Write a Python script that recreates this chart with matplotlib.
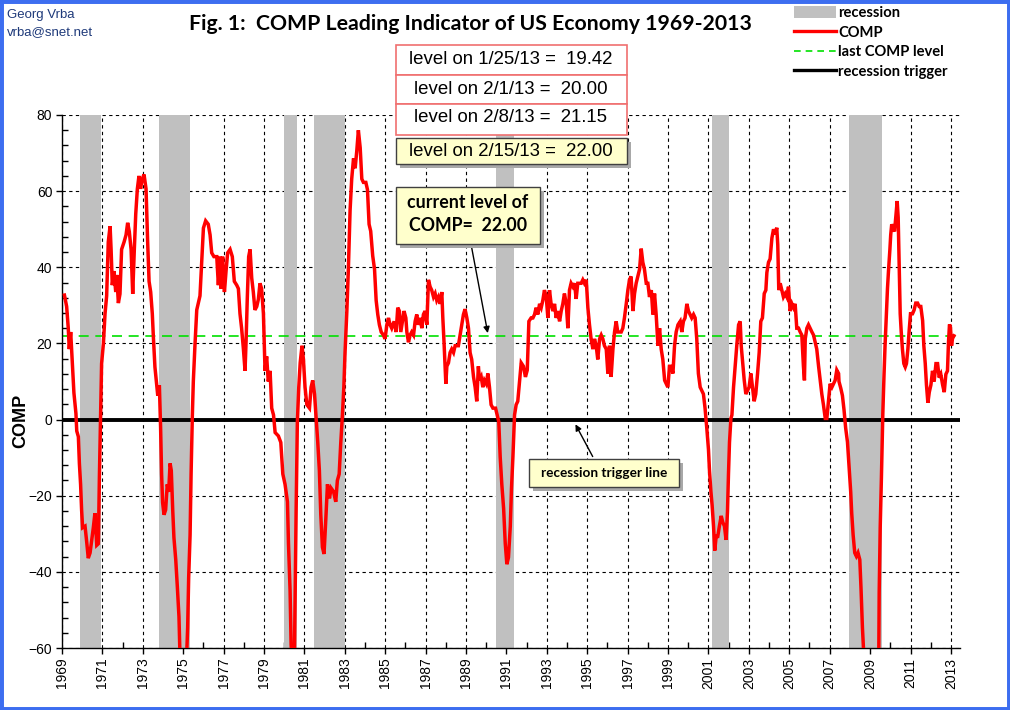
import matplotlib
matplotlib.use('Agg')
import matplotlib.pyplot as plt
from matplotlib.patches import Rectangle, Patch
from matplotlib.lines import Line2D
from matplotlib.ticker import MultipleLocator

# COMP weekly values (decimal year, level)
years = [
    1969.12, 1969.23, 1969.31, 1969.36, 1969.43, 1969.48, 1969.53, 1969.59, 1969.69, 1969.73,
    1969.81, 1969.86, 1969.92, 1969.97, 1970.02, 1970.14, 1970.22, 1970.30, 1970.39, 1970.47,
    1970.55, 1970.63, 1970.72, 1970.80, 1970.85, 1970.91, 1970.96, 1971.05, 1971.13, 1971.21,
    1971.29, 1971.38, 1971.43, 1971.49, 1971.57, 1971.66, 1971.71, 1971.79, 1971.87, 1971.95,
    1972.07, 1972.17, 1972.25, 1972.33, 1972.42, 1972.50, 1972.58, 1972.65, 1972.73, 1972.81,
    1972.89, 1972.96, 1973.06, 1973.16, 1973.24, 1973.31, 1973.39, 1973.47, 1973.52, 1973.60,
    1973.69, 1973.74, 1973.82, 1973.88, 1973.93, 1973.98, 1974.05, 1974.13, 1974.21, 1974.28,
    1974.35, 1974.41, 1974.48, 1974.54, 1974.63, 1974.71, 1974.79, 1974.84, 1974.92, 1975.04,
    1975.17, 1975.22, 1975.27, 1975.34, 1975.39, 1975.45, 1975.50, 1975.58, 1975.67, 1975.75,
    1975.83, 1975.91, 1976.00, 1976.11, 1976.24, 1976.33, 1976.41, 1976.52, 1976.66, 1976.74,
    1976.82, 1976.87, 1976.95, 1977.04, 1977.12, 1977.20, 1977.32, 1977.43, 1977.53, 1977.65,
    1977.73, 1977.81, 1977.89, 1977.98, 1978.06, 1978.11, 1978.17, 1978.24, 1978.31, 1978.39,
    1978.47, 1978.55, 1978.64, 1978.72, 1978.80, 1978.88, 1978.97, 1979.05, 1979.13, 1979.21,
    1979.30, 1979.38, 1979.47, 1979.55, 1979.71, 1979.83, 1979.93, 1980.04, 1980.16, 1980.21,
    1980.29, 1980.34, 1980.39, 1980.50, 1980.54, 1980.59, 1980.65, 1980.72, 1980.79, 1980.88,
    1980.95, 1981.03, 1981.12, 1981.25, 1981.33, 1981.41, 1981.50, 1981.58, 1981.66, 1981.74,
    1981.81, 1981.89, 1981.97, 1982.06, 1982.14, 1982.24, 1982.32, 1982.44, 1982.55, 1982.63,
    1982.72, 1982.80, 1982.88, 1982.95, 1983.01, 1983.10, 1983.18, 1983.26, 1983.34, 1983.43,
    1983.51, 1983.59, 1983.67, 1983.76, 1983.84, 1983.92, 1984.04, 1984.12, 1984.20, 1984.28,
    1984.38, 1984.47, 1984.55, 1984.63, 1984.71, 1984.80, 1984.91, 1984.99, 1985.08, 1985.16,
    1985.24, 1985.32, 1985.44, 1985.54, 1985.62, 1985.70, 1985.77, 1985.85, 1985.93, 1986.02,
    1986.07, 1986.15, 1986.23, 1986.31, 1986.40, 1986.48, 1986.56, 1986.64, 1986.73, 1986.81,
    1986.89, 1986.97, 1987.06, 1987.14, 1987.22, 1987.30, 1987.39, 1987.47, 1987.55, 1987.63,
    1987.72, 1987.80, 1987.85, 1987.91, 1988.00, 1988.05, 1988.13, 1988.21, 1988.29, 1988.38,
    1988.46, 1988.62, 1988.79, 1988.87, 1988.95, 1989.04, 1989.12, 1989.20, 1989.28, 1989.37,
    1989.45, 1989.53, 1989.61, 1989.67, 1989.75, 1989.83, 1989.91, 1990.00, 1990.08, 1990.16,
    1990.24, 1990.33, 1990.46, 1990.54, 1990.62, 1990.69, 1990.77, 1990.86, 1990.94, 1991.02,
    1991.10, 1991.19, 1991.25, 1991.32, 1991.40, 1991.48, 1991.56, 1991.65, 1991.73, 1991.84,
    1991.94, 1992.03, 1992.11, 1992.22, 1992.31, 1992.39, 1992.47, 1992.55, 1992.64, 1992.72,
    1992.80, 1992.88, 1992.97, 1993.05, 1993.13, 1993.21, 1993.30, 1993.38, 1993.46, 1993.54,
    1993.63, 1993.71, 1993.79, 1993.87, 1993.96, 1994.04, 1994.12, 1994.20, 1994.29, 1994.37,
    1994.45, 1994.53, 1994.70, 1994.78, 1994.86, 1994.95, 1995.03, 1995.11, 1995.19, 1995.28,
    1995.36, 1995.44, 1995.52, 1995.61, 1995.69, 1995.77, 1995.85, 1995.94, 1996.02, 1996.10,
    1996.18, 1996.27, 1996.35, 1996.43, 1996.51, 1996.68, 1996.76, 1996.84, 1996.93, 1997.01,
    1997.09, 1997.17, 1997.26, 1997.34, 1997.42, 1997.50, 1997.59, 1997.67, 1997.75, 1997.83,
    1997.92, 1998.00, 1998.08, 1998.17, 1998.25, 1998.33, 1998.41, 1998.50, 1998.58, 1998.66,
    1998.74, 1998.83, 1998.91, 1998.99, 1999.07, 1999.16, 1999.24, 1999.32, 1999.40, 1999.49,
    1999.60, 1999.68, 1999.76, 1999.84, 1999.93, 2000.01, 2000.09, 2000.17, 2000.26, 2000.34,
    2000.42, 2000.50, 2000.59, 2000.67, 2000.75, 2000.83, 2000.92, 2001.00, 2001.05, 2001.12,
    2001.18, 2001.25, 2001.31, 2001.38, 2001.46, 2001.54, 2001.63, 2001.71, 2001.79, 2001.87,
    2001.94, 2001.99, 2002.04, 2002.11, 2002.16, 2002.24, 2002.32, 2002.40, 2002.49, 2002.57,
    2002.62, 2002.68, 2002.77, 2002.85, 2002.93, 2003.01, 2003.10, 2003.18, 2003.26, 2003.34,
    2003.43, 2003.51, 2003.59, 2003.67, 2003.76, 2003.84, 2003.89, 2003.97, 2004.05, 2004.14,
    2004.22, 2004.30, 2004.38, 2004.43, 2004.48, 2004.55, 2004.63, 2004.71, 2004.80, 2004.88,
    2004.96, 2005.04, 2005.13, 2005.21, 2005.29, 2005.37, 2005.46, 2005.54, 2005.62, 2005.70,
    2005.75, 2005.79, 2005.87, 2005.95, 2006.03, 2006.12, 2006.20, 2006.28, 2006.36, 2006.45,
    2006.53, 2006.61, 2006.69, 2006.78, 2006.86, 2006.94, 2007.02, 2007.11, 2007.19, 2007.27,
    2007.35, 2007.44, 2007.46, 2007.55, 2007.63, 2007.71, 2007.79, 2007.88, 2007.96, 2008.04,
    2008.09, 2008.16, 2008.24, 2008.32, 2008.40, 2008.49, 2008.55, 2008.62, 2008.69, 2008.85,
    2009.05, 2009.25, 2009.43, 2009.45, 2009.50, 2009.56, 2009.63, 2009.69, 2009.74, 2009.81,
    2009.86, 2009.91, 2009.98, 2010.02, 2010.07, 2010.14, 2010.21, 2010.27, 2010.34, 2010.39,
    2010.44, 2010.49, 2010.54, 2010.60, 2010.67, 2010.74, 2010.80, 2010.87, 2010.93, 2011.00,
    2011.10, 2011.18, 2011.26, 2011.35, 2011.43, 2011.51, 2011.60, 2011.66, 2011.73, 2011.79,
    2011.86, 2011.93, 2012.01, 2012.09, 2012.17, 2012.26, 2012.34, 2012.42, 2012.50, 2012.59,
    2012.67, 2012.75, 2012.83, 2012.88, 2012.93, 2012.98, 2013.03, 2013.08, 2013.15,
]
comp = [
    32.7, 29.7, 24.0, 18.5, 23.0, 18.0, 13.0, 7.0, 1.6, -3.0,
    -4.5, -11.5, -17.0, -23.7, -28.4, -28.0, -32.0, -36.4, -35.0, -31.7,
    -28.4, -24.6, -33.0, -32.6, -15.3, 0.6, 14.7, 20.0, 27.8, 32.5,
    46.6, 50.8, 44.7, 35.3, 39.0, 33.5, 38.0, 30.6, 33.0, 44.7,
    46.6, 48.5, 51.7, 49.4, 44.7, 33.0, 44.7, 54.0, 60.6, 64.0,
    60.6, 63.0, 64.4, 60.6, 46.6, 36.3, 33.5, 27.8, 22.0, 13.8,
    9.0, 6.3, 9.0, -2.0, -14.3, -21.8, -25.0, -23.7, -17.0, -19.0,
    -11.5, -13.4, -23.7, -31.0, -36.8, -44.0, -51.8, -62.0, -66.0, -66.0,
    -62.0, -54.6, -41.5, -30.3, -14.3, 0.7, 10.0, 19.4, 28.8, 30.6,
    32.5, 41.0, 50.3, 52.2, 51.3, 48.5, 43.8, 42.8, 42.8, 35.3,
    42.8, 34.4, 42.8, 33.5, 39.0, 43.8, 44.7, 42.8, 36.3, 35.3,
    34.4, 27.8, 24.0, 18.5, 12.8, 20.3, 31.6, 42.8, 44.7, 37.2,
    33.5, 28.8, 29.7, 31.6, 35.8, 34.4, 27.8, 12.8, 16.6, 10.0,
    12.8, 3.0, 1.2, -3.4, -4.3, -6.0, -14.3, -17.0, -21.6, -32.5,
    -45.0, -59.0, -64.0, -64.0, -45.0, -23.4, -0.6, 8.5, 14.9, 19.4,
    15.8, 8.5, 3.9, 3.0, 8.5, 10.3, 6.7, 0.3, -6.0, -13.4,
    -25.0, -33.5, -35.3, -26.0, -17.0, -20.7, -18.0, -18.9, -21.6, -16.0,
    -14.3, -6.0, 1.2, 8.5, 17.6, 28.5, 40.4, 55.0, 63.2, 68.6,
    66.0, 70.5, 76.0, 71.4, 63.2, 62.3, 62.3, 60.4, 51.3, 49.5,
    43.0, 39.5, 31.3, 27.6, 24.9, 23.0, 22.2, 21.2, 24.9, 26.7,
    24.9, 24.0, 25.8, 23.0, 29.4, 28.5, 23.0, 25.8, 28.5, 26.7,
    23.0, 20.3, 22.2, 23.0, 22.2, 25.8, 27.6, 24.9, 26.7, 24.0,
    27.6, 28.5, 24.9, 36.7, 34.9, 34.0, 32.2, 33.1, 31.3, 32.2,
    30.4, 33.5, 26.7, 20.3, 9.4, 14.0, 14.9, 17.6, 18.5, 17.6,
    19.4, 19.4, 24.9, 27.6, 29.0, 26.7, 24.0, 17.6, 15.8, 11.2,
    8.5, 4.8, 14.0, 10.3, 11.2, 8.5, 10.3, 9.4, 12.1, 8.5,
    3.9, 3.0, 3.0, 1.2, -0.6, -9.8, -17.0, -23.4, -32.5, -38.0,
    -36.2, -28.0, -18.0, -9.8, 1.2, 3.9, 4.8, 10.3, 14.9, 14.0,
    11.2, 13.0, 25.8, 26.7, 26.7, 27.6, 29.4, 27.6, 30.4, 29.4,
    31.3, 34.0, 32.2, 26.7, 34.0, 30.4, 28.5, 30.4, 26.7, 28.5,
    25.8, 28.5, 30.4, 33.1, 30.4, 24.0, 34.0, 35.8, 34.9, 35.8,
    31.7, 35.8, 35.8, 36.7, 35.8, 36.7, 29.4, 24.9, 21.2, 18.5,
    21.2, 19.4, 15.8, 21.2, 22.2, 21.2, 19.4, 18.5, 12.1, 19.4,
    11.2, 18.5, 23.0, 25.8, 23.0, 23.0, 24.0, 26.7, 30.4, 34.0,
    36.7, 37.6, 28.5, 33.1, 35.8, 37.6, 39.5, 44.9, 41.3, 39.5,
    35.8, 35.8, 32.2, 34.0, 27.6, 33.1, 27.6, 19.4, 24.0, 18.5,
    15.8, 10.3, 9.4, 8.5, 14.0, 14.0, 12.1, 19.4, 23.0, 24.9,
    25.8, 23.0, 25.8, 26.7, 30.4, 28.5, 27.6, 26.7, 27.6, 26.7,
    21.2, 12.1, 8.5, 7.6, 6.7, 3.0, -2.5, -7.9, -13.4, -18.9,
    -22.5, -28.0, -34.4, -30.7, -30.7, -28.0, -25.3, -27.0, -28.0, -31.6,
    -24.3, -14.3, -6.0, 0.3, 1.2, 8.5, 14.0, 19.4, 24.9, 25.8,
    19.4, 15.8, 10.3, 6.7, 7.6, 8.5, 12.1, 8.5, 4.8, 6.7,
    12.1, 17.6, 25.8, 26.7, 33.1, 34.0, 38.6, 41.3, 42.2, 47.7,
    50.0, 48.6, 50.4, 45.9, 34.0, 35.8, 34.0, 32.2, 33.1, 32.2,
    34.9, 28.5, 30.4, 29.4, 30.4, 24.0, 24.0, 23.0, 22.2, 14.0,
    10.3, 21.2, 24.0, 24.9, 24.0, 23.0, 22.2, 20.3, 18.5, 14.0,
    10.3, 6.7, 3.9, 0.3, 0.3, 4.8, 9.4, 8.5, 9.4, 10.3,
    13.0, 12.1, 10.0, 8.2, 6.3, 2.5, -2.2, -5.9, -12.5, -19.0,
    -24.6, -30.3, -35.0, -35.9, -35.0, -36.8, -44.3, -54.6, -62.0, -68.0,
    -70.0, -66.0, -62.0, -45.3, -28.4, -15.3, 1.6, 11.9, 19.4, 27.8,
    34.4, 39.0, 44.7, 48.5, 51.3, 50.3, 49.4, 53.1, 57.4, 53.1,
    41.0, 27.8, 23.1, 18.5, 14.7, 13.8, 14.7, 18.5, 23.1, 27.8,
    27.8, 28.8, 30.6, 30.6, 29.7, 29.7, 26.0, 19.4, 14.7, 9.1,
    4.4, 7.2, 9.1, 12.8, 10.0, 14.7, 14.7, 11.0, 11.9, 9.1,
    7.2, 11.9, 12.8, 20.3, 25.0, 24.1, 19.4, 21.3, 22.0,
]

# NBER recessions (start, end)
rec_start = [1969.90, 1973.80, 1980.00, 1981.47, 1990.48, 2001.19, 2007.95]
rec_end = [1970.95, 1975.35, 1980.62, 1983.00, 1991.35, 2002.00, 2009.60]

last_level = 22.00
trigger = 0
year_ticks = list(range(1969, 2014, 2))

box_lines = ['level on 1/25/13 =  19.42', 'level on 2/1/13 =  20.00', 'level on 2/8/13 =  21.15']
current_line = 'level on 2/15/13 =  22.00'

W, H = 1010, 710


def fx(p):
    return p / W


def fy(p):
    return 1 - p / H


arial = 'Liberation Sans'
calibri = 'Lato'

fig = plt.figure(figsize=(W / 100, H / 100), dpi=100)
fig.patch.set_facecolor('white')
fig.patches.append(Rectangle((0, 0), 1, 1, transform=fig.transFigure, fill=False,
                             edgecolor='#3d6ef0', linewidth=5, zorder=10))

ax = fig.add_axes([fx(62), fy(648), fx(960 - 62), (648 - 115) / H])
ax.set_axisbelow(True)

for s, e in zip(rec_start, rec_end):
    ax.axvspan(s, e, color='#c0c0c0', lw=0, zorder=1)

ax.axhline(last_level, color='#00e000', lw=1.2, ls=(0, (6, 4)), zorder=2)
ax.axhline(trigger, color='black', lw=2.8, zorder=3)
ax.plot(years, comp, color='#ff0000', lw=2.5, zorder=4, solid_joinstyle='miter')

ax.set_xlim(1969, 2013.45)
ax.set_ylim(-60, 80)
ax.set_xticks(year_ticks)
ax.xaxis.set_minor_locator(MultipleLocator(1))
ax.yaxis.set_major_locator(MultipleLocator(20))
ax.yaxis.set_minor_locator(MultipleLocator(4))
ax.grid(True, which='major', color='black', ls=(0, (3, 3)), lw=0.8)
for sp in ['top', 'right']:
    ax.spines[sp].set_visible(False)
for sp in ['left', 'bottom']:
    ax.spines[sp].set_linewidth(1.0)

ax.tick_params(which='major', direction='out', length=4, width=1, labelsize=10, pad=3)
ax.tick_params(which='minor', direction='in', length=4, width=1)
for lab in ax.get_xticklabels():
    lab.set_rotation(90)
    lab.set_fontfamily(arial)
for lab in ax.get_yticklabels():
    lab.set_fontfamily(arial)

fig.text(fx(21), fy(421), 'COMP', rotation=90, ha='center', va='center',
         fontsize=13, fontweight='bold', family=arial)

fig.text(fx(7), fy(15), 'Georg Vrba', ha='left', va='center', fontsize=9.5,
         family=arial, color='#1f3a7a')
fig.text(fx(7), fy(32), 'vrba@snet.net', ha='left', va='center', fontsize=9.5,
         family=arial, color='#1f3a7a')

fig.text(fx(470), fy(24), 'Fig. 1:  COMP Leading Indicator of US Economy 1969-2013',
         ha='center', va='center', fontsize=15.3, fontweight='bold', family=calibri)

# legend
handles = [Patch(facecolor='#c0c0c0', edgecolor='none'),
           Line2D([], [], color='#ff0000', lw=2.4),
           Line2D([], [], color='#00e000', lw=1.2, ls=(0, (4, 3))),
           Line2D([], [], color='black', lw=2.4)]
labels = ['recession', 'COMP', 'last COMP level', 'recession trigger']
fig.legend(handles, labels, loc='upper left', bbox_to_anchor=(fx(794), fy(6)),
           frameon=False, prop={'family': calibri, 'weight': 'bold', 'size': 10.6},
           handlelength=2.85, handleheight=0.9, handletextpad=0.15, labelspacing=0.36,
           borderaxespad=0, borderpad=0)

# stacked level boxes
tops = [45, 75, 104]
bots = [75, 104, 135]
mids = [59, 89, 118]
for t, b, m, txt in zip(tops, bots, mids, box_lines):
    fig.patches.append(Rectangle((fx(396), fy(b)), fx(231), (b - t) / H, transform=fig.transFigure,
                                 facecolor='white', edgecolor='#f07070', lw=1.2, zorder=5))
    fig.text(fx(511), fy(m), txt, ha='center', va='center', fontsize=13.4, family=arial, zorder=6)


def shadow_box(x0, y0, x1, y1):
    fig.patches.append(Rectangle((fx(x0 + 4), fy(y1 + 4)), fx(x1 - x0), (y1 - y0) / H,
                                 transform=fig.transFigure, facecolor='#a8a8a8',
                                 edgecolor='none', zorder=5))
    fig.patches.append(Rectangle((fx(x0), fy(y1)), fx(x1 - x0), (y1 - y0) / H,
                                 transform=fig.transFigure, facecolor='#ffffcc',
                                 edgecolor='#404040', lw=1, zorder=6))


shadow_box(396, 138, 627, 164)
fig.text(fx(511), fy(152), current_line, ha='center', va='center', fontsize=13.4, family=arial, zorder=7)

shadow_box(396, 187, 540, 244)
fig.text(fx(468), fy(214), 'current level of\nCOMP=  22.00', ha='center', va='center',
         fontsize=12.8, fontweight='bold', family=calibri, linespacing=1.4, zorder=7)
ax.annotate('', xy=(1990.1, last_level), xycoords='data', xytext=(fx(471), fy(244)),
            textcoords='figure fraction',
            arrowprops=dict(arrowstyle='-|>', color='black', lw=1, mutation_scale=9), zorder=7)

shadow_box(529, 459, 679, 487)
fig.text(fx(604), fy(473), 'recession trigger line', ha='center', va='center',
         fontsize=9.8, fontweight='bold', family=calibri, zorder=7)
ax.annotate('', xy=(1994.35, -0.6), xycoords='data', xytext=(fx(594), fy(459)),
            textcoords='figure fraction',
            arrowprops=dict(arrowstyle='-|>', color='black', lw=1, mutation_scale=9), zorder=7)

fig.savefig('out.png', dpi=100)
